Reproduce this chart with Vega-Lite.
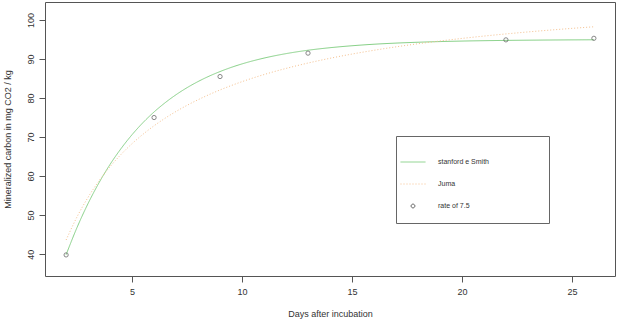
{
  "$schema": "https://vega.github.io/schema/vega-lite/v6.json",
  "width": 570,
  "height": 274,
  "autosize": {"type": "none"},
  "padding": {"left": 45, "top": 2, "right": 9, "bottom": 47},
  "background": "white",
  "config": {
    "font": "Liberation Sans",
    "view": {"stroke": "#555555", "strokeWidth": 1},
    "axis": {
      "grid": false,
      "domain": false,
      "tickColor": "#555555",
      "tickSize": 6,
      "labelFont": "Liberation Sans",
      "labelFontSize": 9,
      "labelColor": "#333333",
      "titleFont": "Liberation Sans",
      "titleFontSize": 9,
      "titleFontWeight": "normal",
      "titleColor": "#333333"
    }
  },
  "datasets": {
    "curves": [
      {"day": 2, "value": 39.86, "series": "stanford e Smith"},
      {"day": 2.5, "value": 46.87, "series": "stanford e Smith"},
      {"day": 3, "value": 52.99, "series": "stanford e Smith"},
      {"day": 3.5, "value": 58.33, "series": "stanford e Smith"},
      {"day": 4, "value": 63.0, "series": "stanford e Smith"},
      {"day": 4.5, "value": 67.06, "series": "stanford e Smith"},
      {"day": 5, "value": 70.61, "series": "stanford e Smith"},
      {"day": 5.5, "value": 73.72, "series": "stanford e Smith"},
      {"day": 6, "value": 76.43, "series": "stanford e Smith"},
      {"day": 6.5, "value": 78.78, "series": "stanford e Smith"},
      {"day": 7, "value": 80.85, "series": "stanford e Smith"},
      {"day": 7.5, "value": 82.65, "series": "stanford e Smith"},
      {"day": 8, "value": 84.22, "series": "stanford e Smith"},
      {"day": 8.5, "value": 85.59, "series": "stanford e Smith"},
      {"day": 9, "value": 86.78, "series": "stanford e Smith"},
      {"day": 9.5, "value": 87.83, "series": "stanford e Smith"},
      {"day": 10, "value": 88.74, "series": "stanford e Smith"},
      {"day": 11, "value": 90.23, "series": "stanford e Smith"},
      {"day": 12, "value": 91.37, "series": "stanford e Smith"},
      {"day": 13, "value": 92.24, "series": "stanford e Smith"},
      {"day": 14, "value": 92.89, "series": "stanford e Smith"},
      {"day": 15, "value": 93.39, "series": "stanford e Smith"},
      {"day": 16, "value": 93.78, "series": "stanford e Smith"},
      {"day": 17, "value": 94.07, "series": "stanford e Smith"},
      {"day": 18, "value": 94.29, "series": "stanford e Smith"},
      {"day": 19, "value": 94.46, "series": "stanford e Smith"},
      {"day": 20, "value": 94.59, "series": "stanford e Smith"},
      {"day": 22, "value": 94.76, "series": "stanford e Smith"},
      {"day": 24, "value": 94.86, "series": "stanford e Smith"},
      {"day": 26, "value": 94.92, "series": "stanford e Smith"},
      {"day": 2, "value": 43.62, "series": "Juma"},
      {"day": 2.5, "value": 49.59, "series": "Juma"},
      {"day": 3, "value": 54.58, "series": "Juma"},
      {"day": 3.5, "value": 58.8, "series": "Juma"},
      {"day": 4, "value": 62.42, "series": "Juma"},
      {"day": 4.5, "value": 65.56, "series": "Juma"},
      {"day": 5, "value": 68.31, "series": "Juma"},
      {"day": 5.5, "value": 70.73, "series": "Juma"},
      {"day": 6, "value": 72.89, "series": "Juma"},
      {"day": 6.5, "value": 74.82, "series": "Juma"},
      {"day": 7, "value": 76.56, "series": "Juma"},
      {"day": 7.5, "value": 78.13, "series": "Juma"},
      {"day": 8, "value": 79.56, "series": "Juma"},
      {"day": 8.5, "value": 80.87, "series": "Juma"},
      {"day": 9, "value": 82.07, "series": "Juma"},
      {"day": 9.5, "value": 83.17, "series": "Juma"},
      {"day": 10, "value": 84.19, "series": "Juma"},
      {"day": 11, "value": 86.01, "series": "Juma"},
      {"day": 12, "value": 87.58, "series": "Juma"},
      {"day": 13, "value": 88.96, "series": "Juma"},
      {"day": 14, "value": 90.18, "series": "Juma"},
      {"day": 15, "value": 91.26, "series": "Juma"},
      {"day": 16, "value": 92.23, "series": "Juma"},
      {"day": 17, "value": 93.11, "series": "Juma"},
      {"day": 18, "value": 93.9, "series": "Juma"},
      {"day": 19, "value": 94.61, "series": "Juma"},
      {"day": 20, "value": 95.27, "series": "Juma"},
      {"day": 21, "value": 95.87, "series": "Juma"},
      {"day": 22, "value": 96.42, "series": "Juma"},
      {"day": 23, "value": 96.93, "series": "Juma"},
      {"day": 24, "value": 97.4, "series": "Juma"},
      {"day": 25, "value": 97.84, "series": "Juma"},
      {"day": 26, "value": 98.25, "series": "Juma"}
    ],
    "obs": [
      {"day": 2, "value": 39.8, "series": "rate of 7.5"},
      {"day": 6, "value": 75.0, "series": "rate of 7.5"},
      {"day": 9, "value": 85.5, "series": "rate of 7.5"},
      {"day": 13, "value": 91.5, "series": "rate of 7.5"},
      {"day": 22, "value": 94.9, "series": "rate of 7.5"},
      {"day": 26, "value": 95.3, "series": "rate of 7.5"}
    ]
  },
  "layer": [
    {
      "data": {"name": "curves"},
      "mark": {"type": "line", "strokeWidth": 1, "interpolate": "monotone"},
      "encoding": {
        "x": {
          "field": "day", "type": "quantitative",
          "scale": {"domain": [1.04, 26.96], "nice": false, "zero": false},
          "axis": {"values": [5, 10, 15, 20, 25], "title": "Days after incubation", "labelPadding": 5, "titlePadding": 13}
        },
        "y": {
          "field": "value", "type": "quantitative",
          "scale": {"domain": [34.4, 104.6], "nice": false, "zero": false},
          "axis": {"values": [40, 50, 60, 70, 80, 90, 100], "title": "Mineralized carbon in mg CO2 / kg", "labelAngle": 270, "labelPadding": 4, "titlePadding": 14}
        },
        "color": {
          "field": "series", "type": "nominal",
          "scale": {"domain": ["stanford e Smith", "Juma", "rate of 7.5"], "range": ["#86d086", "#f5c08e", "#555555"]},
          "legend": {
            "title": null,
            "orient": "none",
            "legendX": 351,
            "legendY": 134,
            "direction": "vertical",
            "strokeColor": "#666666",
            "fillColor": "white",
            "padding": 13,
            "rowPadding": 6,
            "symbolOffset": -9,
            "labelOffset": 12,
            "labelFont": "Liberation Sans",
            "labelFontSize": 7,
            "labelColor": "#333333",
            "labelExpr": "datum.label + '\u00a0\u00a0\u00a0\u00a0\u00a0\u00a0\u00a0\u00a0\u00a0\u00a0\u00a0\u00a0\u00a0\u00a0\u00a0\u00a0\u00a0\u00a0\u00a0\u00a0\u00a0\u00a0\u00a0\u00a0\u200b'",
            "encode": {
              "labels": {"update": {"fill": {"value": "#333333"}}},
              "symbols": {
                "update": {
                  "shape": {"signal": "datum.value === 'rate of 7.5' ? 'circle' : 'stroke'"},
                  "size": {"signal": "datum.value === 'rate of 7.5' ? 14 : 625"},
                  "strokeDash": {"signal": "datum.value === 'Juma' ? [1, 2] : [1, 0]"},
                  "fill": {"value": "transparent"},
                  "strokeWidth": {"value": 1}
                }
              }
            }
          }
        },
        "strokeDash": {
          "field": "series", "type": "nominal",
          "scale": {"domain": ["stanford e Smith", "Juma"], "range": [[1, 0], [1, 2]]},
          "legend": null
        }
      }
    },
    {
      "data": {"name": "obs"},
      "mark": {"type": "point", "shape": "circle", "filled": false, "size": 18, "strokeWidth": 1},
      "encoding": {
        "x": {"field": "day", "type": "quantitative"},
        "y": {"field": "value", "type": "quantitative"},
        "color": {"field": "series", "type": "nominal"}
      }
    }
  ]
}
